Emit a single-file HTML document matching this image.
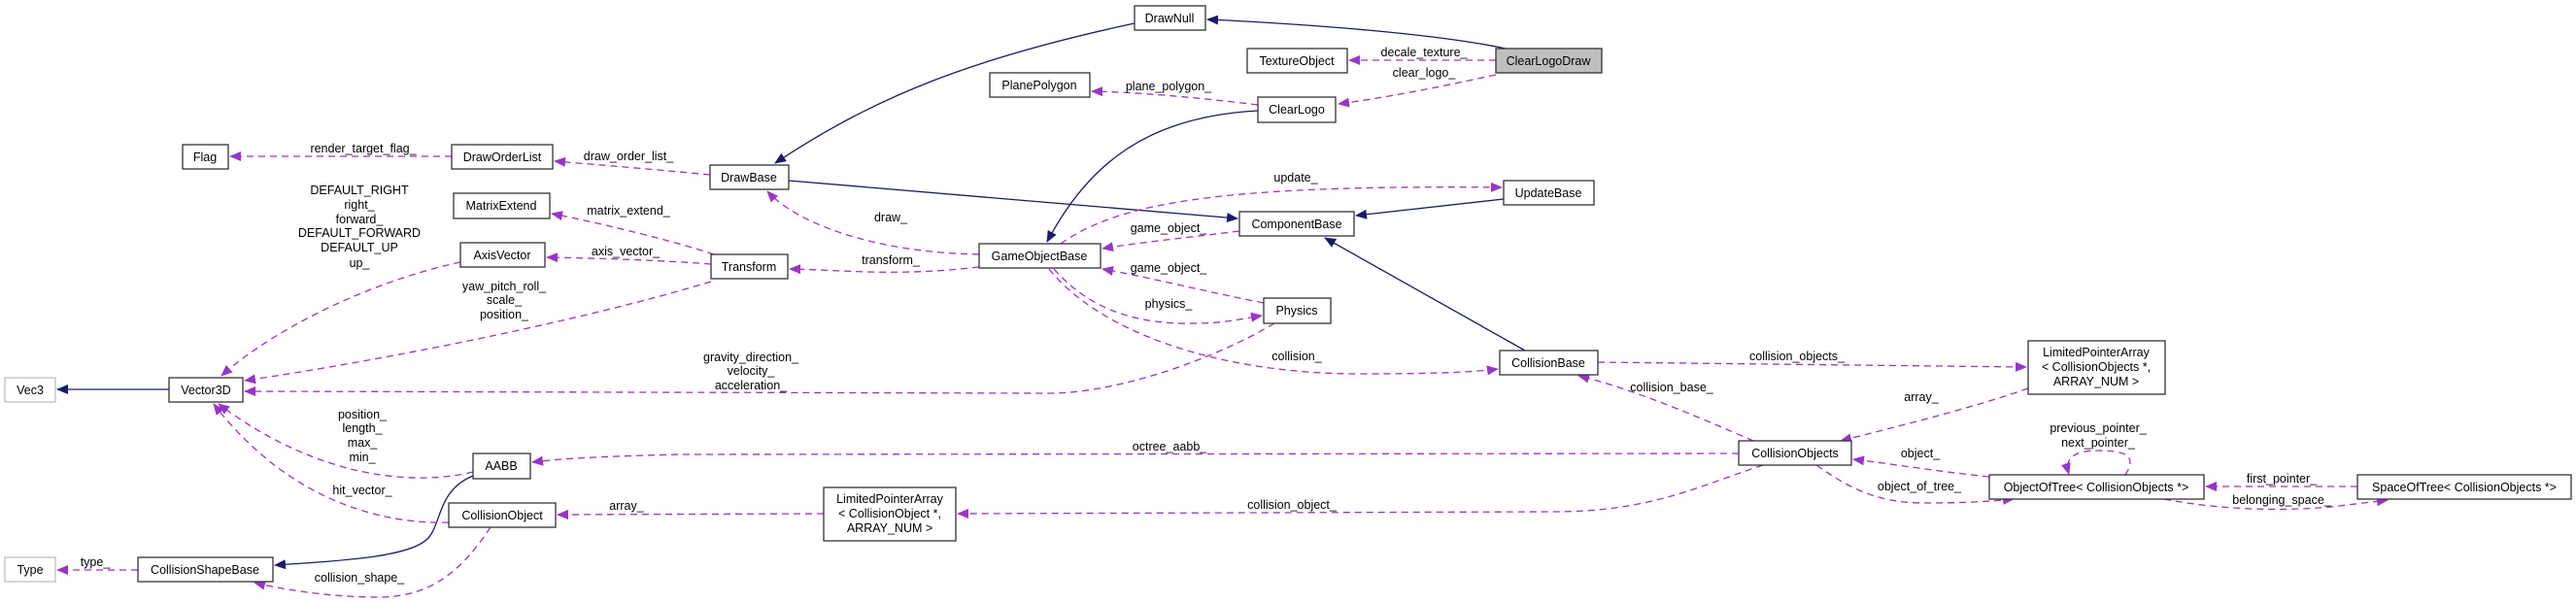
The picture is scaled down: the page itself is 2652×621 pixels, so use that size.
<!DOCTYPE html>
<html><head><meta charset="utf-8"><style>
html,body{margin:0;padding:0;background:#fff;}
svg{display:block;}
text{font-family:"Liberation Sans",sans-serif;font-size:12.5px;fill:#000;}
.n{fill:#fff;stroke:#333;stroke-width:1.3;}
.g{fill:#fff;stroke:#bfbfbf;stroke-width:1.3;}
.s{fill:none;stroke:#191970;stroke-width:1.3;}
.d{fill:none;stroke:#9a32cd;stroke-width:1.3;stroke-dasharray:7,5;}
</style></head><body>
<svg width="2652" height="621" viewBox="0 0 2652 621" xmlns="http://www.w3.org/2000/svg">
<defs>
<marker id="ab" markerWidth="12" markerHeight="10" refX="11" refY="5" orient="auto" markerUnits="userSpaceOnUse"><path d="M0,0 L12,5 L0,10 z" fill="#191970"/></marker>
<marker id="ap" markerWidth="12" markerHeight="10" refX="11" refY="5" orient="auto" markerUnits="userSpaceOnUse"><path d="M0,0 L12,5 L0,10 z" fill="#9a32cd"/></marker>
</defs>
<g class="s" marker-end="url(#ab)">
<path class="s" d="M1550,50 C1480,35 1350,25 1243,20"/>
<path class="s" d="M1168,24 C1000,60 900,100 798,168"/>
<path class="s" d="M1295,114 C1180,120 1120,170 1078,249"/>
<path class="s" d="M812,186 L1274,225"/>
<path class="s" d="M1548,205 L1396,222"/>
<path class="s" d="M1570,361 L1364,245"/>
<path class="s" d="M174,401 L59,401"/>
<path class="s" d="M487,490 C450,505 455,540 440,555 C420,575 340,578 283,582"/>
</g>
<g marker-end="url(#ap)">
<path class="d" d="M465,161 L237,161"/>
<path class="d" d="M731,180 C680,175 620,170 571,166"/>
<path class="d" d="M735,262 C700,250 620,230 568,220"/>
<path class="d" d="M732,272 C680,268 620,266 563,265"/>
<path class="d" d="M732,290 C600,330 400,370 252,392"/>
<path class="d" d="M474,270 C380,290 280,340 228,387"/>
<path class="d" d="M1312,333 C1250,370 1150,405 1080,405 L252,403"/>
<path class="d" d="M487,486 C430,500 330,495 225,416"/>
<path class="d" d="M462,538 C400,540 300,520 220,416"/>
<path class="d" d="M1008,262 C900,260 820,230 790,197"/>
<path class="d" d="M1008,275 C920,285 870,278 813,277"/>
<path class="d" d="M1276,238 C1220,245 1170,250 1135,256"/>
<path class="d" d="M1092,251 C1150,210 1250,190 1546,193"/>
<path class="d" d="M1301,312 C1240,300 1180,285 1135,277"/>
<path class="d" d="M1085,277 C1110,305 1150,335 1230,333 C1260,333 1280,328 1299,325"/>
<path class="d" d="M1080,277 C1130,340 1250,385 1400,385 C1480,385 1520,383 1542,380"/>
<path class="d" d="M1540,62 L1389,62"/>
<path class="d" d="M1540,77 C1480,90 1430,100 1378,107"/>
<path class="d" d="M1295,108 C1230,100 1170,95 1124,94"/>
<path class="d" d="M1645,373 L2086,378"/>
<path class="d" d="M2088,400 C2030,420 1970,435 1895,454"/>
<path class="d" d="M1805,454 C1750,430 1680,400 1625,387"/>
<path class="d" d="M1790,467 L700,468 C620,470 580,472 548,476"/>
<path class="d" d="M1815,479 C1750,500 1700,527 1600,527 L986,529"/>
<path class="d" d="M848,529 L574,530"/>
<path class="d" d="M505,543 C480,580 450,615 390,615 C340,615 290,607 262,600"/>
<path class="d" d="M142,587 L59,587"/>
<path class="d" d="M2048,491 C1990,485 1950,478 1908,473"/>
<path class="d" d="M1870,479 C1900,500 1930,518 1980,518 C2030,518 2050,516 2073,514"/>
<path class="d" d="M2188,489 C2200,470 2190,464 2160,464 C2135,464 2125,472 2130,488"/>
<path class="d" d="M2427,501 L2271,501"/>
<path class="d" d="M2228,514 C2270,522 2330,528 2400,522 L2458,515"/>
</g>
<rect class="n" x="1168" y="6" width="73" height="25"/><text x="1204" y="23" text-anchor="middle">DrawNull</text>
<rect class="n" x="1284" y="50" width="103" height="25"/><text x="1335" y="67" text-anchor="middle">TextureObject</text>
<rect x="1540" y="50" width="109" height="25" fill="#bfbfbf" stroke="#333" stroke-width="1.3"/><text x="1594" y="67" text-anchor="middle">ClearLogoDraw</text>
<rect class="n" x="1019" y="75" width="103" height="25"/><text x="1070" y="92" text-anchor="middle">PlanePolygon</text>
<rect class="n" x="1295" y="100" width="80" height="26"/><text x="1335" y="117" text-anchor="middle">ClearLogo</text>
<rect class="n" x="188" y="149" width="47" height="25"/><text x="211" y="166" text-anchor="middle">Flag</text>
<rect class="n" x="465" y="149" width="104" height="25"/><text x="517" y="166" text-anchor="middle">DrawOrderList</text>
<rect class="n" x="731" y="170" width="81" height="25"/><text x="771" y="187" text-anchor="middle">DrawBase</text>
<rect class="n" x="1548" y="186" width="93" height="25"/><text x="1594" y="203" text-anchor="middle">UpdateBase</text>
<rect class="n" x="467" y="199" width="99" height="26"/><text x="516" y="216" text-anchor="middle">MatrixExtend</text>
<rect class="n" x="1276" y="218" width="118" height="25"/><text x="1335" y="235" text-anchor="middle">ComponentBase</text>
<rect class="n" x="474" y="250" width="87" height="25"/><text x="517" y="267" text-anchor="middle">AxisVector</text>
<rect class="n" x="1008" y="251" width="125" height="25"/><text x="1070" y="268" text-anchor="middle">GameObjectBase</text>
<rect class="n" x="732" y="262" width="79" height="25"/><text x="771" y="279" text-anchor="middle">Transform</text>
<rect class="n" x="1301" y="307" width="69" height="26"/><text x="1335" y="324" text-anchor="middle">Physics</text>
<rect class="n" x="1544" y="361" width="101" height="25"/><text x="1594" y="378" text-anchor="middle">CollisionBase</text>
<rect class="n" x="2088" y="351" width="141" height="55"/><text x="2158" y="367" text-anchor="middle">LimitedPointerArray</text><text x="2158" y="382" text-anchor="middle">&lt; CollisionObjects *,</text><text x="2158" y="397" text-anchor="middle">ARRAY_NUM &gt;</text>
<rect class="g" x="5" y="389" width="52" height="25"/><text x="31" y="406" text-anchor="middle">Vec3</text>
<rect class="n" x="174" y="389" width="76" height="25"/><text x="212" y="406" text-anchor="middle">Vector3D</text>
<rect class="n" x="1790" y="454" width="116" height="25"/><text x="1848" y="471" text-anchor="middle">CollisionObjects</text>
<rect class="n" x="487" y="467" width="59" height="26"/><text x="516" y="484" text-anchor="middle">AABB</text>
<rect class="n" x="2048" y="489" width="221" height="25"/><text x="2158" y="506" text-anchor="middle">ObjectOfTree&lt; CollisionObjects *&gt;</text>
<rect class="n" x="2427" y="489" width="220" height="25"/><text x="2537" y="506" text-anchor="middle">SpaceOfTree&lt; CollisionObjects *&gt;</text>
<rect class="n" x="848" y="502" width="136" height="55"/><text x="916" y="518" text-anchor="middle">LimitedPointerArray</text><text x="916" y="533" text-anchor="middle">&lt; CollisionObject *,</text><text x="916" y="548" text-anchor="middle">ARRAY_NUM &gt;</text>
<rect class="n" x="462" y="518" width="110" height="25"/><text x="517" y="535" text-anchor="middle">CollisionObject</text>
<rect class="g" x="5" y="574" width="52" height="25"/><text x="31" y="591" text-anchor="middle">Type</text>
<rect class="n" x="142" y="574" width="139" height="25"/><text x="211" y="591" text-anchor="middle">CollisionShapeBase</text>
<g text-anchor="middle">
<text x="1466" y="58">decale_texture_</text>
<text x="1466" y="79">clear_logo_</text>
<text x="1203" y="93">plane_polygon_</text>
<text x="374" y="157">render_target_flag_</text>
<text x="647" y="165">draw_order_list_</text>
<text x="1334" y="187">update_</text>
<text x="370" y="200">DEFAULT_RIGHT</text>
<text x="370" y="215">right_</text>
<text x="370" y="230">forward_</text>
<text x="370" y="244">DEFAULT_FORWARD</text>
<text x="370" y="259">DEFAULT_UP</text>
<text x="370" y="275">up_</text>
<text x="647" y="221">matrix_extend_</text>
<text x="917" y="228">draw_</text>
<text x="1203" y="239">game_object_</text>
<text x="644" y="263">axis_vector_</text>
<text x="917" y="272">transform_</text>
<text x="1203" y="280">game_object_</text>
<text x="519" y="299">yaw_pitch_roll_</text>
<text x="519" y="313">scale_</text>
<text x="519" y="328">position_</text>
<text x="1203" y="317">physics_</text>
<text x="773" y="372">gravity_direction_</text>
<text x="773" y="386">velocity_</text>
<text x="773" y="401">acceleration_</text>
<text x="1335" y="371">collision_</text>
<text x="1850" y="371">collision_objects_</text>
<text x="1721" y="403">collision_base_</text>
<text x="1978" y="413">array_</text>
<text x="373" y="431">position_</text>
<text x="373" y="445">length_</text>
<text x="373" y="460">max_</text>
<text x="373" y="475">min_</text>
<text x="2160" y="445">previous_pointer_</text>
<text x="2160" y="460">next_pointer_</text>
<text x="1204" y="464">octree_aabb_</text>
<text x="1977" y="471">object_</text>
<text x="2349" y="497">first_pointer_</text>
<text x="1976" y="505">object_of_tree_</text>
<text x="373" y="509">hit_vector_</text>
<text x="2349" y="519">belonging_space_</text>
<text x="1330" y="524">collision_object_</text>
<text x="645" y="525">array_</text>
<text x="98" y="583">type_</text>
<text x="370" y="599">collision_shape_</text>
</g>
</svg>
</body></html>
